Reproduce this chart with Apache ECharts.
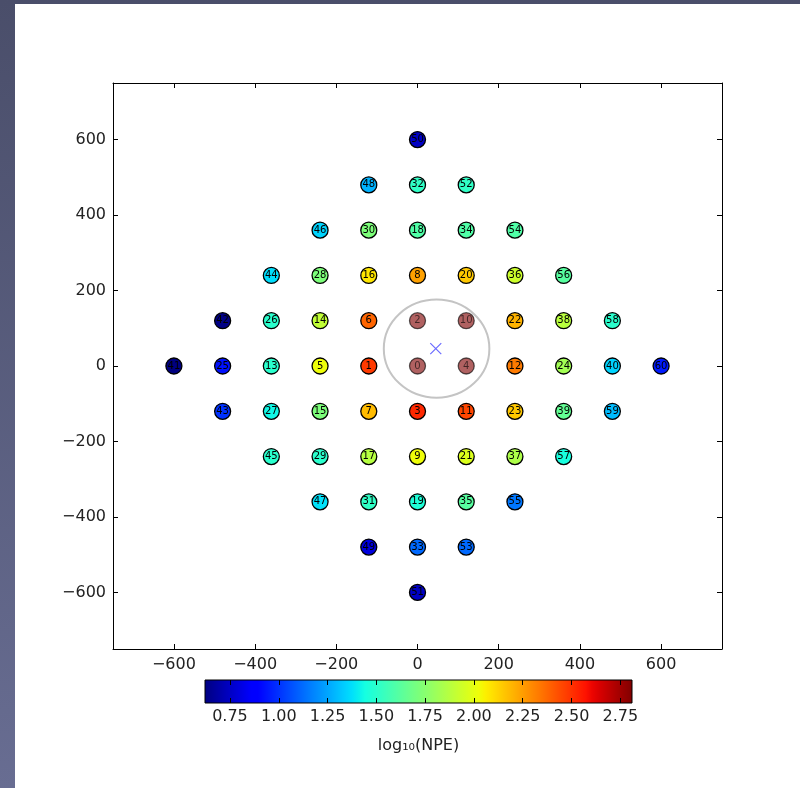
<!DOCTYPE html>
<html>
<head>
<meta charset="utf-8">
<script src="https://cdn.jsdelivr.net/npm/echarts@6/dist/echarts.min.js"></script>
<style>
  html, body { margin: 0; padding: 0; }
  body { width: 800px; height: 788px; background: linear-gradient(#4a4e6a, #686d92); position: relative; overflow: hidden; }
  #chart { position: absolute; left: 15px; top: 4px; width: 785px; height: 784px; background: #fff; }
</style>
</head>
<body>
<div id="chart"></div>
<script>
// detector ids, positions and log10(NPE)
const ids = [0, 1, 2, 3, 4, 5, 6, 7, 8, 9, 10, 11, 12, 13, 14, 15, 16, 17, 18, 19, 20,
  21, 22, 23, 24, 25, 26, 27, 28, 29, 30, 31, 32, 33, 34, 35, 36, 37, 38, 39, 40,
  41, 42, 43, 44, 45, 46, 47, 48, 49, 50, 51, 52, 53, 54, 55, 56, 57, 58, 59, 60]
const xs = [0, -120, 0, 0, 120, -240, -120, -120, 0, 0, 120, 120, 240, -360, -240, -240, -120, -120, 0, 0, 120,
  120, 240, 240, 360, -480, -360, -360, -240, -240, -120, -120, 0, 0, 120, 120, 240, 240, 360, 360, 480,
  -600, -480, -480, -360, -360, -240, -240, -120, -120, 0, 0, 120, 120, 240, 240, 360, 360, 480, 480, 600]
const ys = [0, 0, 120, -120, 0, 0, 120, -120, 240, -240, 120, -120, 0, 0, 120, -120, 240, -240, 360, -360, 240,
  -240, 120, -120, 0, 0, 120, -120, 240, -240, 360, -360, 480, -480, 360, -360, 240, -240, 120, -120, 0,
  0, 120, -120, 240, -240, 360, -360, 480, -480, 600, -600, 480, -480, 360, -360, 240, -240, 120, -120, 0]
const logNpe = [2.81, 2.48, 2.81, 2.52, 2.81, 2.02, 2.38, 2.18, 2.24, 2.02, 2.81, 2.45, 2.33, 1.50, 1.90, 1.72, 2.08, 1.87, 1.60, 1.47, 2.15,
  1.97, 2.20, 2.15, 1.82, 0.93, 1.50, 1.43, 1.72, 1.50, 1.72, 1.52, 1.52, 1.12, 1.60, 1.62, 1.93, 1.85, 1.88, 1.65, 1.35,
  0.62, 0.63, 1.00, 1.37, 1.50, 1.35, 1.38, 1.28, 0.80, 0.75, 0.75, 1.52, 1.12, 1.60, 1.15, 1.62, 1.45, 1.50, 1.30, 0.95]
// detectors inside the circle, drawn faded
const selected = [0, 2, 4, 10]
const fit = [47, 46, 130]   // x, y, radius
const fitMark = [45, 46]

const axisTicks = [-600, -400, -200, 0, 200, 400, 600]
const cbarTicks = [0.75, 1.00, 1.25, 1.50, 1.75, 2.00, 2.25, 2.50, 2.75]
const cMin = 0.622, cMax = 2.81

// matplotlib jet
function seg(t, pts) {
  for (let i = 1; i < pts.length; i++) {
    if (t <= pts[i][0]) {
      let a = pts[i - 1], b = pts[i]
      return a[1] + (b[1] - a[1]) * (t - a[0]) / (b[0] - a[0])
    }
  }
  return pts[pts.length - 1][1]
}
function jet(t) {
  let r = seg(t, [[0, 0], [0.35, 0], [0.66, 1], [0.89, 1], [1, 0.5]])
  let g = seg(t, [[0, 0], [0.125, 0], [0.375, 1], [0.64, 1], [0.91, 0], [1, 0]])
  let b = seg(t, [[0, 0.5], [0.11, 1], [0.34, 1], [0.65, 0], [1, 0]])
  return 'rgb(' + Math.round(r * 255) + ',' + Math.round(g * 255) + ',' + Math.round(b * 255) + ')'
}
const jetColors = []
for (let i = 0; i <= 64; i++) jetColors.push(jet(i / 64))

const pts = ids.map((id, i) => ({
  value: [xs[i], ys[i], logNpe[i], id],
  itemStyle: { opacity: selected.includes(id) ? 0.62 : 1 }
}))

const minus = v => String(v).replace('-', '\u2212')
const font = 'DejaVu Sans'

let myChart = echarts.init(document.getElementById('chart'))
myChart.setOption({
  animation: false,
  textStyle: { fontFamily: font },
  grid: [
    { left: 98, top: 79, width: 609, height: 566 },
    { left: 190, top: 676, width: 427, height: 23 }
  ],
  xAxis: [
    {
      type: 'value', gridIndex: 0, min: -750, max: 750,
      axisLine: { onZero: false, lineStyle: { color: '#000', width: 1 } },
      axisTick: { inside: true, length: 5, customValues: axisTicks, lineStyle: { color: '#000' } },
      axisLabel: { customValues: axisTicks, formatter: minus, fontSize: 16, color: '#222', margin: 8 },
      splitLine: { show: false }
    },
    {
      type: 'value', gridIndex: 0, min: -750, max: 750, position: 'top',
      axisLine: { onZero: false, lineStyle: { color: '#000', width: 1 } },
      axisTick: { inside: true, length: 5, customValues: axisTicks, lineStyle: { color: '#000' } },
      axisLabel: { show: false },
      splitLine: { show: false }
    },
    {
      type: 'value', gridIndex: 1, min: cMin, max: cMax, z: 10,
      axisLine: { show: false },
      axisTick: { inside: true, length: 5, customValues: cbarTicks, lineStyle: { color: '#000' } },
      axisLabel: { customValues: cbarTicks, formatter: v => v.toFixed(2), fontSize: 16, color: '#222', margin: 6 },
      splitLine: { show: false },
      name: 'log\u2081\u2080(NPE)', nameLocation: 'middle', nameGap: 35,
      nameTextStyle: { fontSize: 16, color: '#222', fontFamily: font }
    },
    {
      type: 'value', gridIndex: 1, min: cMin, max: cMax, position: 'top', z: 10,
      axisLine: { show: false },
      axisTick: { inside: true, length: 5, customValues: cbarTicks, lineStyle: { color: '#000' } },
      axisLabel: { show: false },
      splitLine: { show: false }
    }
  ],
  yAxis: [
    {
      type: 'value', gridIndex: 0, min: -750, max: 750,
      axisLine: { show: true, onZero: false, lineStyle: { color: '#000', width: 1 } },
      axisTick: { show: true, inside: true, length: 5, customValues: axisTicks, lineStyle: { color: '#000' } },
      axisLabel: { customValues: axisTicks, formatter: minus, fontSize: 16, color: '#222', margin: 7 },
      splitLine: { show: false }
    },
    {
      type: 'value', gridIndex: 0, min: -750, max: 750, position: 'right',
      axisLine: { show: true, onZero: false, lineStyle: { color: '#000', width: 1 } },
      axisTick: { show: true, inside: true, length: 5, customValues: axisTicks, lineStyle: { color: '#000' } },
      axisLabel: { show: false },
      splitLine: { show: false }
    },
    { type: 'value', gridIndex: 1, min: 0, max: 1, show: false }
  ],
  visualMap: {
    show: false, type: 'continuous', seriesIndex: 0, dimension: 2,
    min: cMin, max: cMax, inRange: { color: jetColors }
  },
  series: [
    {
      type: 'scatter', xAxisIndex: 0, yAxisIndex: 0, z: 3,
      symbolSize: 16,
      itemStyle: { borderColor: '#000', borderWidth: 1.3, opacity: 1 },
      label: {
        show: true, position: 'inside', formatter: p => p.value[3],
        fontSize: 10, color: '#000', fontFamily: font
      },
      emphasis: { disabled: true },
      data: pts
    },
    {
      type: 'custom', xAxisIndex: 0, yAxisIndex: 0, z: 2,
      renderItem: (params, api) => {
        let c = api.coord([api.value(0), api.value(1)])
        let s = api.size([api.value(2), api.value(2)])
        return {
          type: 'ellipse',
          shape: { cx: c[0], cy: c[1], rx: s[0], ry: s[1] },
          style: { fill: 'none', stroke: '#c4c4c4', lineWidth: 2 }
        }
      },
      data: [fit]
    },
    {
      type: 'scatter', xAxisIndex: 0, yAxisIndex: 0, z: 4,
      symbol: 'path://M0,0L10,10M10,0L0,10', symbolSize: 11,
      itemStyle: { color: 'none', borderColor: '#6b6bff', borderWidth: 1.2, opacity: 1 },
      emphasis: { disabled: true },
      data: [fitMark]
    },
    {
      type: 'custom', xAxisIndex: 2, yAxisIndex: 2, z: 2,
      renderItem: (params, api) => {
        let a = api.coord([api.value(0), 0])
        let b = api.coord([api.value(1), 1])
        let stops = jetColors.map((c, i) => ({ offset: i / (jetColors.length - 1), color: c }))
        return {
          type: 'rect',
          shape: { x: a[0], y: b[1], width: b[0] - a[0], height: a[1] - b[1] },
          style: { fill: new echarts.graphic.LinearGradient(0, 0, 1, 0, stops), stroke: '#000', lineWidth: 1 }
        }
      },
      data: [[cMin, cMax]]
    }
  ]
})
</script>
</body>
</html>
